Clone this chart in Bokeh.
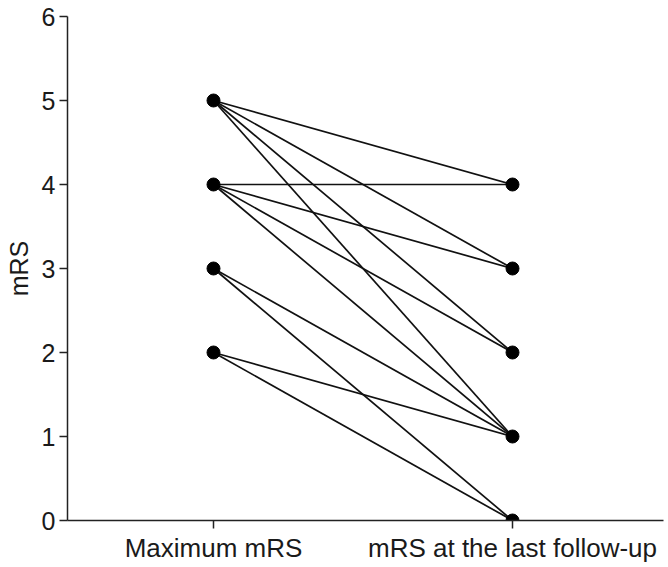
from bokeh.plotting import figure
from bokeh.models import FixedTicker
from bokeh.embed import file_html
from bokeh.resources import INLINE

categories = ["Maximum mRS", "mRS at the last follow-up"]
max_mrs = [5, 5, 5, 5, 4, 4, 4, 4, 3, 3, 2, 2]
last_mrs = [4, 3, 2, 1, 4, 3, 2, 1, 1, 0, 1, 0]
y_ticks = [0, 1, 2, 3, 4, 5, 6]

cat_pos = [1, 2]

# frame from x=67 to 663; category 1 at 213, category 2 at 512
x_start = 1 - (213 - 67) / 299
x_end = 2 + (663 - 512) / 299

p = figure(width=668, height=567, x_range=(x_start, x_end), y_range=(0, 6),
           output_backend="svg", toolbar_location=None,
           min_border_left=67, min_border_right=5, min_border_top=16, min_border_bottom=47)

xs = [[cat_pos[0], cat_pos[1]] for _ in max_mrs]
ys = [[a, b] for a, b in zip(max_mrs, last_mrs)]
p.multi_line(xs, ys, line_color="#111111", line_width=1.7)

pts = sorted(set(max_mrs))
p.scatter([cat_pos[0]] * len(pts), pts, size=13, color="#000000")
pts2 = sorted(set(last_mrs))
p.scatter([cat_pos[1]] * len(pts2), pts2, size=13, color="#000000")

p.xgrid.visible = False
p.ygrid.visible = False
p.outline_line_color = None

font = "Liberation Sans"
p.xaxis.ticker = FixedTicker(ticks=cat_pos)
p.xaxis.major_label_overrides = {cat_pos[0]: categories[0], cat_pos[1]: categories[1]}
p.yaxis.ticker = FixedTicker(ticks=y_ticks)
p.yaxis.axis_label = "mRS"

for ax in (p.xaxis[0], p.yaxis[0]):
    ax.axis_line_color = "#222222"
    ax.axis_line_width = 1.5
    ax.major_tick_line_color = "#222222"
    ax.major_tick_line_width = 1.5
    ax.major_tick_out = 8
    ax.major_tick_in = 0
    ax.minor_tick_line_color = None
    ax.major_label_text_font = font
    ax.major_label_text_font_size = "25px"
    ax.major_label_text_color = "#1a1a1a"
    ax.axis_label_text_font = font
    ax.axis_label_text_font_size = "25px"
    ax.axis_label_text_font_style = "normal"
    ax.axis_label_text_color = "#1a1a1a"

p.xaxis.major_label_text_font_size = "26px"
p.yaxis.major_label_standoff = 4
p.yaxis.axis_label_standoff = 6
p.xaxis.major_label_standoff = 4

open("out.html", "w").write(file_html(p, INLINE))
